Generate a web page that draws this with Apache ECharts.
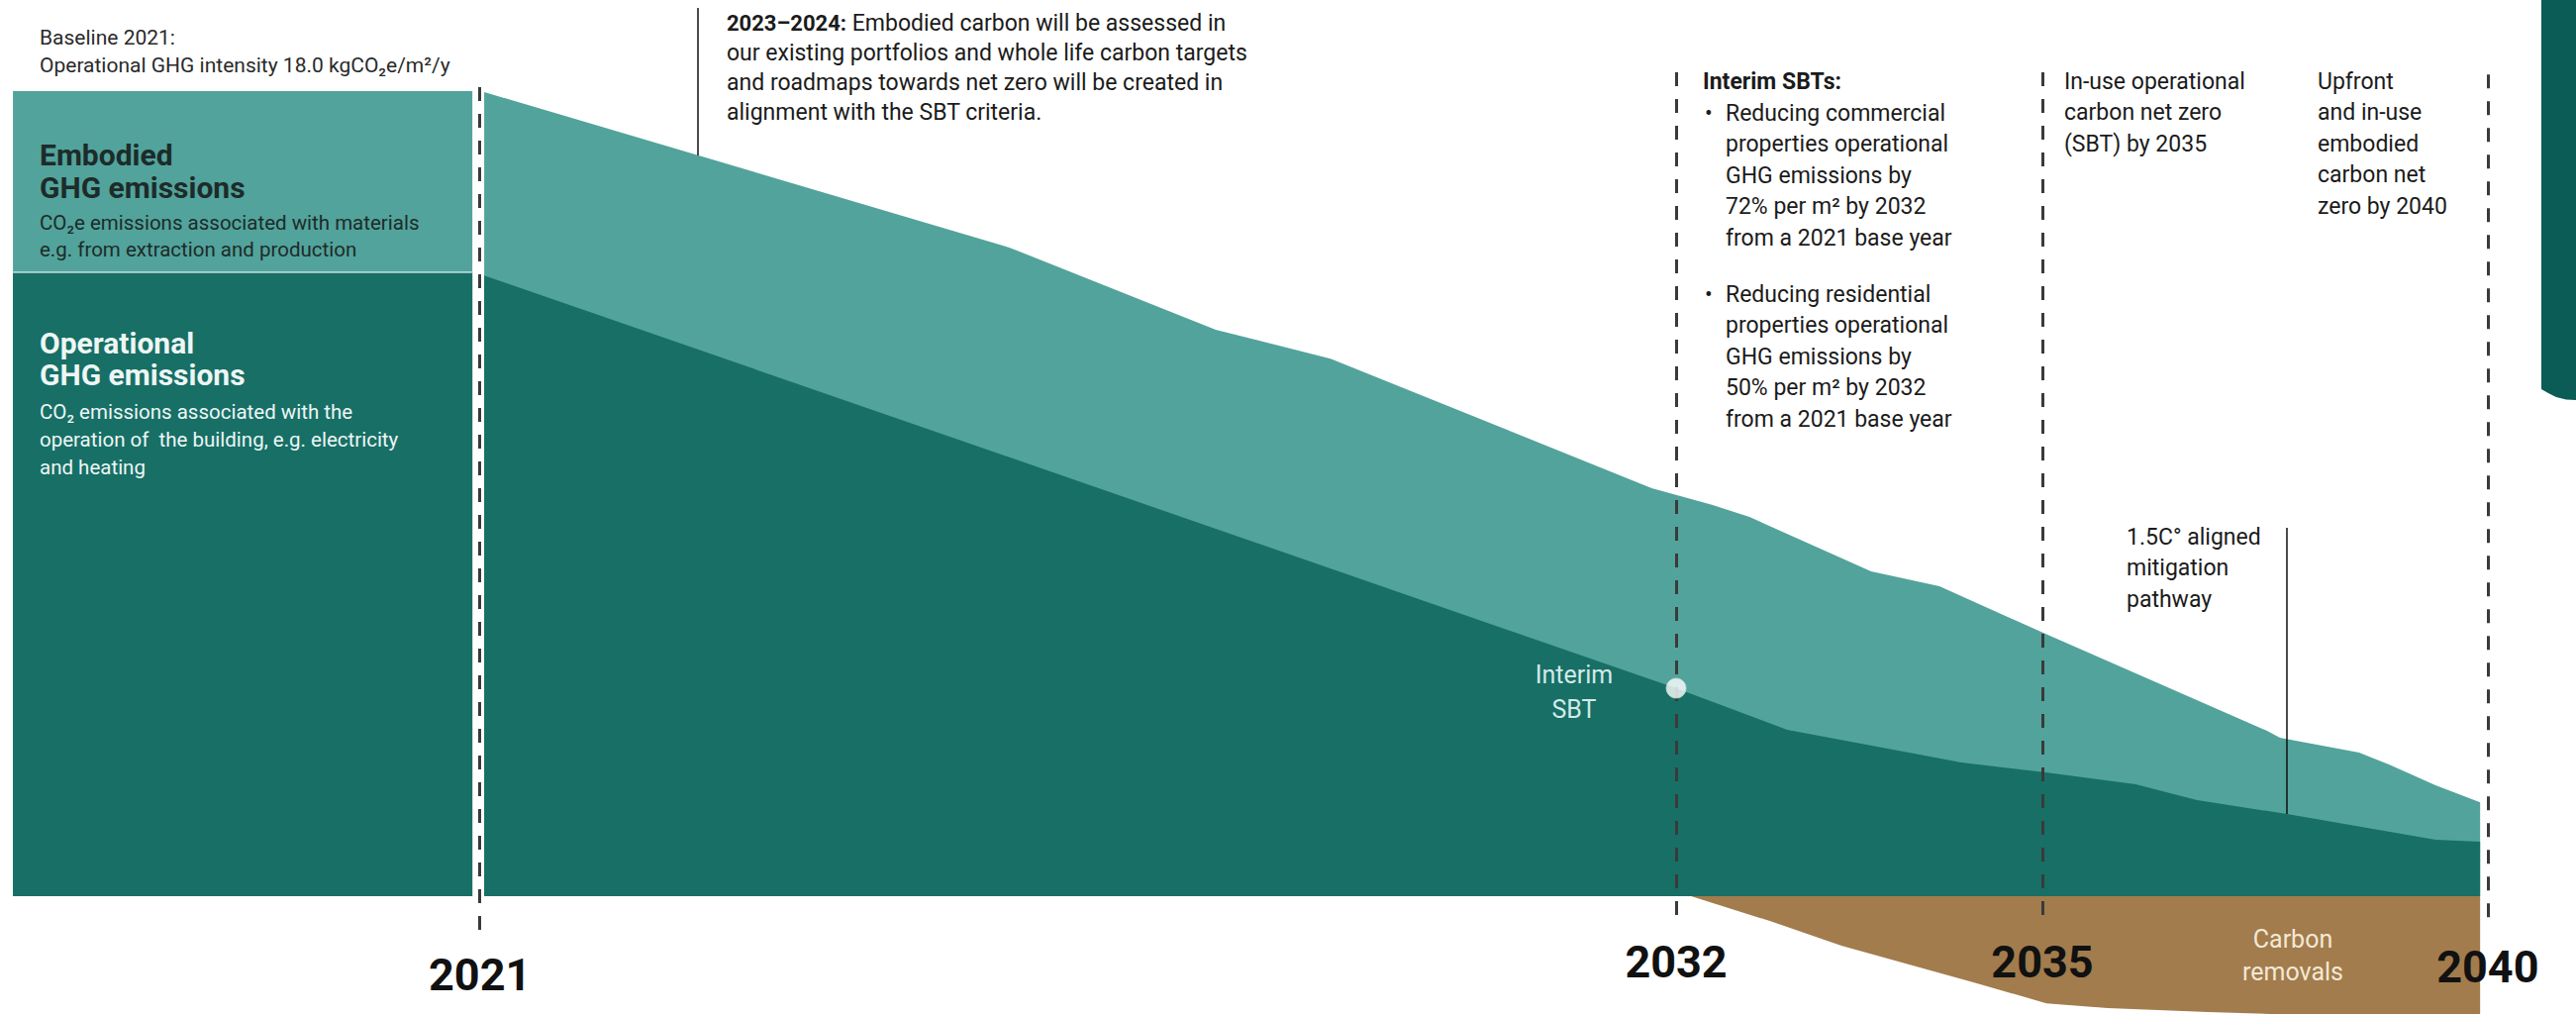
<!DOCTYPE html>
<html><head><meta charset="utf-8">
<script src="https://cdn.jsdelivr.net/npm/echarts@6/dist/echarts.min.js"></script>
<style>html,body{margin:0;padding:0;background:#fff}#c{width:2602px;height:1025px}</style>
</head><body><div id="c"></div>
<script>
// Timeline units: 2021 = 0, 2040 = 100 (schematic, non-uniform in years)
// Values: kgCO2e/m²/y
const yearLabels = ['2021', '2032', '2035', '2040'];
const yearPositions = [0, 59.58, 77.82, 100];
const yearLineTop = [23.34, 23.77, 23.77, 23.71];
const yearLineBottom = [-1.29, -0.91, -0.91, -0.91];

const baselinePositions = [-23.25, -0.37];
const baselineTotal = [23.23, 23.23];
const baselineOperational = [18.0, 18.0];

const totalPositions = [0.22, 26.40, 36.65, 42.37, 58.36, 61.36, 63.23, 69.29, 72.69, 77.97, 89.01, 89.65, 93.60, 95.08, 97.40, 99.62];
const totalIntensity = [23.2, 18.71, 16.34, 15.51, 11.77, 11.29, 10.94, 9.37, 8.94, 7.57, 4.77, 4.57, 4.14, 3.80, 3.20, 2.71];

const operationalPositions = [0.22, 59.58, 65.11, 73.78, 77.97, 82.46, 85.52, 90.0, 97.40, 99.62];
const operationalIntensity = [17.91, 6.0, 4.8, 3.86, 3.57, 3.23, 2.77, 2.37, 1.63, 1.57];

const removalPositions = [60.32, 64.21, 67.81, 74.42, 78.02, 81.07, 86.05, 99.62];
const removalValues = [0, -0.71, -1.43, -2.49, -3.09, -3.23, -3.34, -3.6];

const interimPosition = [59.58];
const interimValue = [6.0];

const leaderPositions = [10.87, 90.0];
const leaderTop = [25.63, 10.63];
const leaderBottom = [21.37, 2.37];

const FONT = 'Roboto, "Liberation Sans", sans-serif';
const C_EMB = '#52a39b', C_OPS = '#176f66', C_REM = '#a27c4c', C_TXT = '#1b1b1b';

const zip = (xs, ys) => xs.map((x, i) => [x, ys[i]]);

function textBlock(x, baseline1, lines, size, lh, color, weight, align) {
  return {
    type: 'text', x: x, y: baseline1 - 0.34 * size - lh / 2, silent: true, z: 100,
    style: {
      text: lines.join('\n'), fontSize: size, lineHeight: lh, fontFamily: FONT,
      fontWeight: weight || 'normal', fill: color, align: align || 'left', verticalAlign: 'top'
    }
  };
}

function areaSeries(name, data, color, lineStyle, z) {
  return {
    name: name, type: 'line', data: data, symbol: 'none', smooth: false, silent: true, z: z,
    lineStyle: lineStyle || { width: 0, opacity: 0 },
    areaStyle: { color: color, opacity: 1 }, clip: true
  };
}

const markLines = [];
yearPositions.forEach((p, i) => {
  markLines.push([{ coord: [p, yearLineTop[i]], lineStyle: { color: '#3a3a3a', width: 3, type: [14, 13] } },
                  { coord: [p, yearLineBottom[i]] }]);
});
leaderPositions.forEach((p, i) => {
  markLines.push([{ coord: [p, leaderTop[i]], lineStyle: { color: '#111', width: 1.5, type: 'solid' } },
                  { coord: [p, leaderBottom[i]] }]);
});

const yearRich = { fontSize: 45, fontWeight: 'bold', fontFamily: FONT, color: '#111' };

const chart = echarts.init(document.getElementById('c'), null, { renderer: 'svg' });
chart.setOption({
  animation: false,
  backgroundColor: '#ffffff',
  grid: { left: 8, right: 8, top: 2, bottom: 1 },
  xAxis: {
    type: 'value', min: -23.5, max: 104, offset: -53, z: 20,
    axisLine: { show: false }, axisTick: { show: false }, splitLine: { show: false },
    axisLabel: {
      customValues: yearPositions, margin: 0, verticalAlign: 'middle', hideOverlap: false,
      formatter: function (v) {
        const i = yearPositions.indexOf(v);
        const lab = i >= 0 ? yearLabels[i] : '';
        if (i === 0) return '{a|' + lab + '}';
        if (i === 3) return '{c|' + lab + '}';
        return '{b|' + lab + '}';
      },
      rich: {
        a: Object.assign({ padding: [26, 0, 0, 0] }, yearRich),
        b: Object.assign({}, yearRich),
        c: Object.assign({ padding: [10, 0, 0, 0] }, yearRich)
      }
    }
  },
  yAxis: { type: 'value', min: -3.4, max: 25.8, show: false, splitLine: { show: false } },
  series: [
    areaSeries('Baseline total', zip(baselinePositions, baselineTotal), C_EMB, null, 1),
    areaSeries('Baseline operational', zip(baselinePositions, baselineOperational), C_OPS,
               { width: 2, color: 'rgba(255,255,255,0.55)' }, 2),
    areaSeries('Embodied GHG emissions', zip(totalPositions, totalIntensity), C_EMB, null, 1),
    areaSeries('Operational GHG emissions', zip(operationalPositions, operationalIntensity), C_OPS, null, 2),
    areaSeries('Carbon removals', zip(removalPositions, removalValues), C_REM, null, 2),
    {
      name: 'markers', type: 'line', data: [], z: 5, silent: true,
      markLine: { silent: true, symbol: ['none', 'none'], label: { show: false }, animation: false, data: markLines }
    },
    {
      name: 'Interim SBT', type: 'scatter', z: 10, silent: true, symbolSize: 20,
      data: zip(interimPosition, interimValue),
      itemStyle: { color: '#ffffff', borderColor: '#c9d6d3', borderWidth: 1 }
    }
  ],
  graphic: [
    { type: 'polygon', silent: true, z: 50,
      shape: { points: [[2567, 0], [2602, 0], [2602, 404], [2592, 403.5], [2582, 401], [2574, 397], [2567, 393]] },
      style: { fill: '#0b5b56' } },
    textBlock(40, 45, ['Baseline 2021:', 'Operational GHG intensity 18.0 kgCO₂e/m²/y'], 21, 28, '#2a2a2a'),
    textBlock(40, 167, ['Embodied', 'GHG emissions'], 30, 33, '#1d2b2a', 'bold'),
    textBlock(40, 232, ['CO₂e emissions associated with materials', 'e.g. from extraction and production'], 20.5, 27, '#1d2b2a'),
    textBlock(40, 357, ['Operational', 'GHG emissions'], 30, 32, '#eef6f4', 'bold'),
    textBlock(40, 423, ['CO₂ emissions associated with the', 'operation of  the building, e.g. electricity', 'and heating'], 20.5, 28, '#eef6f4'),
    {
      type: 'text', x: 734, y: 31 - 0.34 * 23 - 15, silent: true, z: 100,
      style: {
        text: '{b|2023–2024:} Embodied carbon will be assessed in\nour existing portfolios and whole life carbon targets\nand roadmaps towards net zero will be created in\nalignment with the SBT criteria.',
        fontSize: 23, lineHeight: 30, fontFamily: FONT, fill: C_TXT, align: 'left', verticalAlign: 'top',
        rich: { b: { fontSize: 22, lineHeight: 30, fontFamily: FONT, fontWeight: 'bold', fill: C_TXT } }
      }
    },
    textBlock(1720, 90, ['Interim SBTs:'], 23, 31.5, C_TXT, 'bold'),
    textBlock(1722, 122, ['•'], 23, 31.5, C_TXT),
    textBlock(1743, 122, ['Reducing commercial', 'properties operational', 'GHG emissions by', '72% per m² by 2032', 'from a 2021 base year'], 23, 31.5, C_TXT),
    textBlock(1722, 305, ['•'], 23, 31.5, C_TXT),
    textBlock(1743, 305, ['Reducing residential', 'properties operational', 'GHG emissions by', '50% per m² by 2032', 'from a 2021 base year'], 23, 31.5, C_TXT),
    textBlock(2085, 90, ['In-use operational', 'carbon net zero', '(SBT) by 2035'], 23, 31.5, C_TXT),
    textBlock(2341, 90, ['Upfront', 'and in-use', 'embodied', 'carbon net', 'zero by 2040'], 23, 31.5, C_TXT),
    textBlock(2148, 550, ['1.5C° aligned', 'mitigation', 'pathway'], 23, 31.5, C_TXT),
    textBlock(1590, 690, ['Interim', 'SBT'], 25, 35, '#d3eae6', 'normal', 'center'),
    textBlock(2316, 957, ['Carbon', 'removals'], 25, 33, '#f3e8d6', 'normal', 'center')
  ]
});
</script>
</body></html>
